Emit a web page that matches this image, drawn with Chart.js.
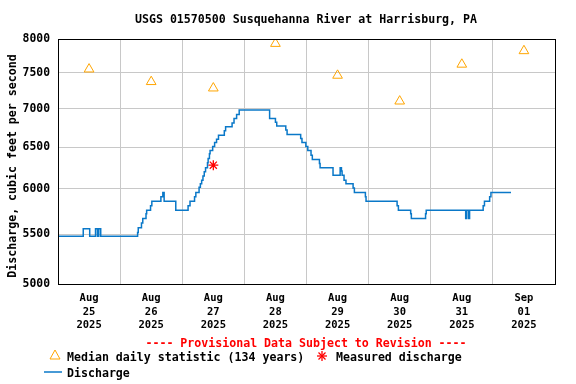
<!DOCTYPE html>
<html>
<head>
<meta charset="utf-8">
<script src="https://cdn.jsdelivr.net/npm/chart.js@4.4.1/dist/chart.umd.min.js"></script>
<style>
  body { margin: 0; background: #fff; }
  #wrap { position: relative; width: 576px; height: 384px; font-family: 'DejaVu Sans Mono', monospace; font-weight: bold; font-size: 11.6px; }
  #wrap canvas { position: absolute; left: 0; top: 0; }
  .txt { position: absolute; line-height: 14px; white-space: pre; color: #000; }
  #ytitle { left: -138px; top: 159px; width: 300px; text-align: center; transform: rotate(-90deg); }
</style>
</head>
<body>
<div id="wrap">
  <canvas id="chart" width="576" height="384"></canvas>
  <div class="txt" id="title" style="left:0;width:612px;top:12px;text-align:center">USGS 01570500 Susquehanna River at Harrisburg, PA</div>
  <div class="txt" id="ytitle">Discharge, cubic feet per second</div>
  <div class="txt" style="left:0;width:612px;top:336px;text-align:center;color:#f00">---- Provisional Data Subject to Revision ----</div>
  <svg style="position:absolute;left:49px;top:349px" width="13" height="12"><polygon points="6,1 11,10 1,10" fill="none" stroke="#ffa500" stroke-width="1"/></svg>
  <div class="txt" style="left:67px;top:350px">Median daily statistic (134 years)</div>
  <svg style="position:absolute;left:316px;top:350px" width="12" height="12"><g stroke="#f00" stroke-width="1.3"><line x1="6" y1="1" x2="6" y2="11"/><line x1="1" y1="6" x2="11" y2="6"/><line x1="2.5" y1="2.5" x2="9.5" y2="9.5"/><line x1="9.5" y1="2.5" x2="2.5" y2="9.5"/></g></svg>
  <div class="txt" style="left:336px;top:350px">Measured discharge</div>
  <svg style="position:absolute;left:44px;top:366px" width="19" height="12"><line x1="0" y1="6" x2="18" y2="6" stroke="#0a78c8" stroke-width="1.5"/></svg>
  <div class="txt" style="left:67px;top:366px">Discharge</div>
</div>
<script>
// hours since Aug 25 00:00 where the reading changes, and the new discharge (cfs)
const flowHours = [0, 9.75, 12.25, 14.5, 15.25, 15.75, 16.5, 30.75, 31, 32.25, 32.75, 34, 34.25, 35.75, 36.25,
  39.75, 40.5, 41, 45.5, 50.25, 51, 52.75, 53.25, 54.5, 55, 55.5, 56, 56.5, 57, 57.75, 58, 58.5, 58.75,
  59.75, 60.5, 61.25, 62, 64.25, 64.75, 67.25, 68, 69, 70, 81.75, 84, 84.5, 88, 88.5, 93.75, 94.25,
  95.75, 96.5, 97.75, 98.25, 101, 101.25, 106.25, 109, 109.5, 109.75, 110.5, 111.25, 114, 114.5,
  118.75, 119, 131, 131.5, 136.25, 136.5, 142, 142.25, 157.5, 157.75, 158.5, 159, 164.25, 164.75,
  166.75, 167.25, 175]
const flowValues = [5480, 5560, 5480, 5560, 5480, 5560, 5480, 5520, 5570, 5620, 5670, 5720, 5760, 5810, 5860,
  5910, 5960, 5860, 5760, 5810, 5860, 5910, 5960, 6020, 6060, 6100, 6150, 6200, 6250, 6310, 6360, 6420, 6460,
  6510, 6560, 6600, 6650, 6710, 6760, 6810, 6870, 6920, 6980, 6870, 6820, 6770, 6720, 6660, 6610, 6560,
  6510, 6460, 6400, 6350, 6300, 6250, 6160, 6250, 6210, 6160, 6100, 6060, 6010, 5960,
  5910, 5860, 5810, 5760, 5720, 5670, 5720, 5760, 5670, 5760, 5670, 5760, 5810, 5860,
  5910, 5960, 5960]

const medianHours = [12, 36, 60, 84, 108, 132, 156, 180]
const medianValues = [7550, 7370, 7280, 7930, 7460, 7100, 7620, 7820]

const measuredHours = [60]
const measuredValues = [6280]

const months = ['Aug', 'Aug', 'Aug', 'Aug', 'Aug', 'Aug', 'Aug', 'Sep']
const days = ['25', '26', '27', '28', '29', '30', '31', '01']
const year = '2025'
const yTicks = [5000, 5500, 6000, 6500, 7000, 7500, 8000]

const mono = 'DejaVu Sans Mono'
const pts = (xs, ys) => xs.map((x, i) => ({x: x, y: ys[i]}))

const frame = {
    id: 'frame',
    afterDraw(chart) {
        const a = chart.chartArea, c = chart.ctx
        c.save()
        c.strokeStyle = '#000'
        c.lineWidth = 1
        c.strokeRect(Math.round(a.left) + 0.5, Math.round(a.top) + 0.5, Math.round(a.right - a.left), Math.round(a.bottom - a.top))
        c.restore()
    }
}

new Chart(document.getElementById('chart'), {
    type: 'line',
    data: {
        datasets: [{
            label: 'Discharge',
            data: pts(flowHours, flowValues),
            borderColor: '#0a78c8',
            borderWidth: 1.5,
            stepped: true,
            pointRadius: 0,
            fill: false
        }, {
            label: 'Median daily statistic (134 years)',
            data: pts(medianHours, medianValues),
            showLine: false,
            pointStyle: 'triangle',
            pointRadius: 5.6,
            borderColor: '#ffa500',
            backgroundColor: 'rgba(0,0,0,0)',
            borderWidth: 1
        }, {
            label: 'Measured discharge',
            data: pts(measuredHours, measuredValues),
            showLine: false,
            pointStyle: 'star',
            pointRadius: 5,
            borderColor: '#f00',
            backgroundColor: '#f00',
            borderWidth: 1.3
        }]
    },
    options: {
        responsive: false,
        animation: false,
        devicePixelRatio: 1,
        layout: {padding: {top: 39, right: 21, left: 0, bottom: 0}},
        plugins: {legend: {display: false}, tooltip: {enabled: false}, title: {display: false}},
        scales: {
            x: {
                type: 'linear',
                min: 0,
                max: 192,
                afterBuildTicks: s => {
                    const t = []
                    for (let h = 0; h <= 192; h += 12) t.push({value: h})
                    s.ticks = t
                },
                afterFit: s => { s.height = 100 },
                ticks: {
                    autoSkip: false,
                    maxRotation: 0,
                    padding: 8,
                    color: '#000',
                    font: {family: mono, weight: 'bold', size: 10.5, lineHeight: 1.27},
                    callback: v => {
                        if (v % 24 !== 12) return ''
                        const d = (v - 12) / 24
                        return [months[d], days[d], year]
                    }
                },
                grid: {
                    color: c => (c.tick && c.tick.value % 24 === 0) ? '#c8c8c8' : 'rgba(0,0,0,0)',
                    drawTicks: false
                },
                border: {color: '#000'}
            },
            y: {
                type: 'logarithmic',
                min: 5000,
                max: 8000,
                afterBuildTicks: s => { s.ticks = yTicks.map(v => ({value: v})) },
                afterFit: s => { s.width = 58 },
                ticks: {
                    padding: 8,
                    color: '#000',
                    font: {family: mono, weight: 'bold', size: 11.4},
                    callback: v => String(v)
                },
                grid: {color: '#c8c8c8', drawTicks: false},
                border: {color: '#000'}
            }
        }
    },
    plugins: [frame]
})
</script>
</body>
</html>
